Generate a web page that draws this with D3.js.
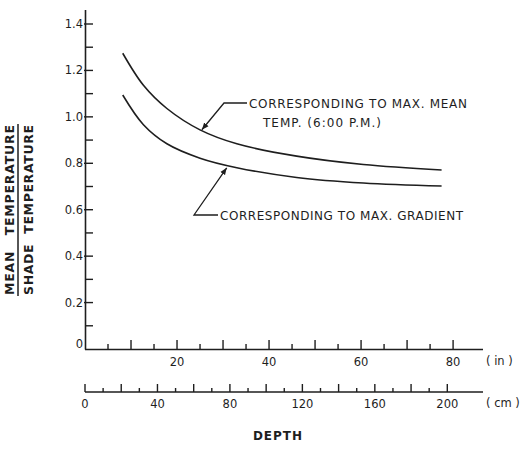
<!DOCTYPE html>
<html><head><meta charset="utf-8">
<script src="https://cdn.jsdelivr.net/npm/d3@7"></script>
<style>
html,body{margin:0;padding:0;background:#fff;}
svg{display:block;}
text{font-family:"DejaVu Sans",sans-serif;fill:#1e1e1e;}
</style></head>
<body>
<svg id="c" width="524" height="452"></svg>
<script>
// Data
const depthIn = [8.2, 12.7, 17.8, 25.0, 33.0, 46.0, 60.5, 77.5];
const ratioMaxMean = [1.274, 1.136, 1.036, 0.944, 0.884, 0.831, 0.795, 0.771];
const ratioMaxGradient = [1.094, 0.966, 0.884, 0.822, 0.781, 0.739, 0.715, 0.702];
const yTickLabels = ["0", "0.2", "0.4", "0.6", "0.8", "1.0", "1.2", "1.4"];
const yTicks = [0, 0.2, 0.4, 0.6, 0.8, 1.0, 1.2, 1.4];
const inLabels = [20, 40, 60, 80];
const cmLabels = [0, 40, 80, 120, 160, 200];
const labelMaxMean = ["CORRESPONDING TO MAX. MEAN", "TEMP. (6:00 P.M.)"];
const labelMaxGradient = "CORRESPONDING TO MAX. GRADIENT";

const svg = d3.select("#c");
const ink = "#1e1e1e";

const x = d3.scaleLinear().domain([0, 86.5]).range([85, 483]);
const xcm = d3.scaleLinear().domain([0, 86.5 * 2.54]).range([85, 483]);
const y = d3.scaleLinear().domain([0, 1.4]).range([349, 24]);

// Y axis
svg.append("line").attr("x1", 85.5).attr("x2", 85.5).attr("y1", 10).attr("y2", 349.5)
  .attr("stroke", ink).attr("stroke-width", 1.6);
d3.range(1, 15).forEach(i => {
  const v = i / 10, major = i % 2 === 0;
  svg.append("line").attr("x1", major ? 84 : 86).attr("x2", 93)
    .attr("y1", y(v)).attr("y2", y(v)).attr("stroke", ink).attr("stroke-width", 1.4);
});
yTicks.forEach((v, i) => {
  svg.append("text").attr("x", 83).attr("y", y(v) + (v === 0 ? -1 : 4))
    .attr("text-anchor", "end").attr("font-size", 11.5).text(yTickLabels[i]);
});

// Inch axis
svg.append("line").attr("x1", 85).attr("x2", 483).attr("y1", 349.5).attr("y2", 349.5)
  .attr("stroke", ink).attr("stroke-width", 1.6);
d3.range(5, 81, 5).forEach(v => {
  const major = v % 10 === 0;
  svg.append("line").attr("x1", x(v)).attr("x2", x(v)).attr("y1", 349).attr("y2", major ? 340 : 344)
    .attr("stroke", ink).attr("stroke-width", 1.4);
});
inLabels.forEach(v => {
  svg.append("text").attr("x", x(v)).attr("y", 366).attr("text-anchor", "middle")
    .attr("font-size", 11.5).text(v);
});
svg.append("text").attr("x", 486).attr("y", 365).attr("font-size", 11.5).text("( in )");

// Cm axis
svg.append("line").attr("x1", 85).attr("x2", 483).attr("y1", 392).attr("y2", 392)
  .attr("stroke", ink).attr("stroke-width", 1.6);
d3.range(0, 201, 10).forEach(v => {
  const major = v % 20 === 0;
  svg.append("line").attr("x1", xcm(v)).attr("x2", xcm(v)).attr("y1", 392).attr("y2", major ? 384 : 388)
    .attr("stroke", ink).attr("stroke-width", 1.4);
});
cmLabels.forEach(v => {
  svg.append("text").attr("x", xcm(v)).attr("y", 408).attr("text-anchor", "middle")
    .attr("font-size", 11.5).text(v);
});
svg.append("text").attr("x", 486).attr("y", 407).attr("font-size", 11.5).text("( cm )");

// Axis titles
svg.append("text").attr("x", 278).attr("y", 440).attr("text-anchor", "middle")
  .attr("font-size", 12).attr("font-weight", "bold").attr("letter-spacing", 1).text("DEPTH");

const yt = svg.append("g").attr("transform", "translate(0,210) rotate(-90)");
yt.append("text").attr("x", 0).attr("y", 13.5).attr("text-anchor", "middle")
  .attr("font-size", 12.5).attr("font-weight", "bold")
  .attr("textLength", 170).attr("lengthAdjust", "spacing")
  .attr("xml:space", "preserve").style("white-space", "pre").text("MEAN   TEMPERATURE");
yt.append("line").attr("x1", -86).attr("x2", 86).attr("y1", 18).attr("y2", 18)
  .attr("stroke", ink).attr("stroke-width", 1.5);
yt.append("text").attr("x", 0).attr("y", 33).attr("text-anchor", "middle")
  .attr("font-size", 12.5).attr("font-weight", "bold")
  .attr("textLength", 170).attr("lengthAdjust", "spacing")
  .attr("xml:space", "preserve").style("white-space", "pre").text("SHADE  TEMPERATURE");

// Curves
const line = d3.line().x(d => x(d[0])).y(d => y(d[1])).curve(d3.curveCatmullRom.alpha(0.5));
[ratioMaxMean, ratioMaxGradient].forEach(series => {
  svg.append("path").datum(depthIn.map((d, i) => [d, series[i]]))
    .attr("d", line).attr("fill", "none").attr("stroke", ink).attr("stroke-width", 1.6);
});

// Arrow marker
svg.append("defs").append("marker").attr("id", "ah").attr("viewBox", "0 0 10 10")
  .attr("refX", 10).attr("refY", 5).attr("markerWidth", 7).attr("markerHeight", 7)
  .attr("markerUnits", "userSpaceOnUse").attr("orient", "auto")
  .append("path").attr("d", "M0,1 L10,5 L0,9 Z").attr("fill", ink);

// Annotations (leaders point to curve locations via scales)
const aUp = [x(25.4), y(0.94)];
svg.append("path").attr("d", `M247,103 L224,103 L${aUp[0]},${aUp[1] - 1}`)
  .attr("fill", "none").attr("stroke", ink).attr("stroke-width", 1.3).attr("marker-end", "url(#ah)");
svg.append("text").attr("x", 249).attr("y", 108).attr("font-size", 12)
  .attr("textLength", 218).attr("lengthAdjust", "spacing").text(labelMaxMean[0]);
svg.append("text").attr("x", 263).attr("y", 127).attr("font-size", 12)
  .attr("textLength", 118).attr("lengthAdjust", "spacing").text(labelMaxMean[1]);

const aLo = [x(30.8), y(0.785)];
svg.append("path").attr("d", `M218,215 L194,215 L${aLo[0]},${aLo[1] + 1}`)
  .attr("fill", "none").attr("stroke", ink).attr("stroke-width", 1.3).attr("marker-end", "url(#ah)");
svg.append("text").attr("x", 220).attr("y", 220).attr("font-size", 12)
  .attr("textLength", 243).attr("lengthAdjust", "spacing").text(labelMaxGradient);
</script>
</body></html>
